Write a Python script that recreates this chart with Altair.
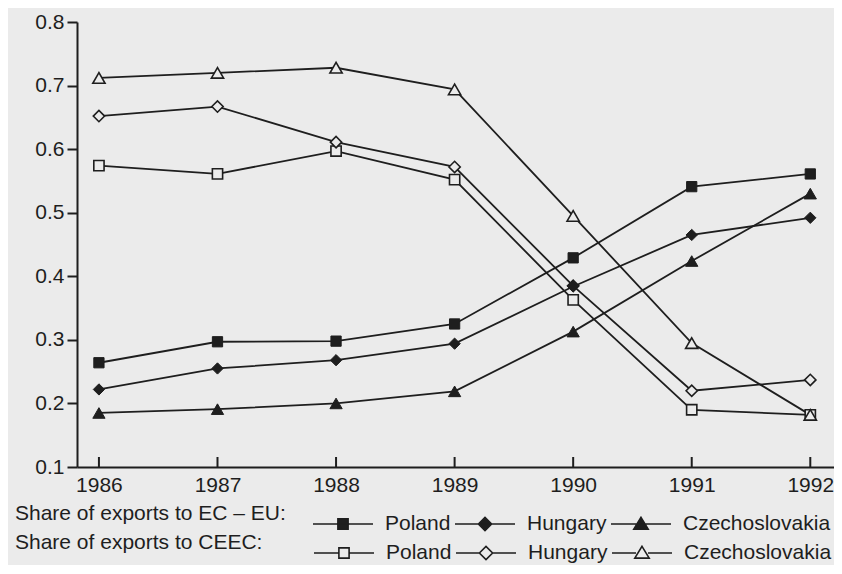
import altair as alt
import pandas as pd

years = [1986, 1987, 1988, 1989, 1990, 1991, 1992]
countries = ["Poland", "Hungary", "Czechoslovakia"]

# Share of exports to EC - EU
poland_ec = [0.264, 0.297, 0.298, 0.325, 0.429, 0.541, 0.561]
hungary_ec = [0.222, 0.255, 0.268, 0.294, 0.384, 0.465, 0.492]
czech_ec = [0.185, 0.191, 0.200, 0.219, 0.313, 0.424, 0.530]
# Share of exports to CEEC
poland_ceec = [0.574, 0.561, 0.597, 0.552, 0.363, 0.190, 0.182]
hungary_ceec = [0.652, 0.667, 0.611, 0.572, 0.385, 0.220, 0.237]
czech_ceec = [0.712, 0.720, 0.728, 0.694, 0.495, 0.295, 0.182]

y_ticks = [0.1, 0.2, 0.3, 0.4, 0.5, 0.6, 0.7, 0.8]

series = {
    ("EC", "Poland"): poland_ec,
    ("EC", "Hungary"): hungary_ec,
    ("EC", "Czechoslovakia"): czech_ec,
    ("CEEC", "Poland"): poland_ceec,
    ("CEEC", "Hungary"): hungary_ceec,
    ("CEEC", "Czechoslovakia"): czech_ceec,
}
rows = []
for (grp, c), vals in series.items():
    for yr, v in zip(years, vals):
        rows.append({"year": yr, "value": v, "country": c, "group": grp, "series": grp + " " + c})
df = pd.DataFrame(rows)
ticks_df = pd.DataFrame({"year": years})

INK = "#1e1e1e"
BG = "#ebebeb"
FONT = "Liberation Sans"
W, H = 757, 445

x_enc = alt.X(
    "year:Q",
    title=None,
    scale=alt.Scale(domain=[1985.815, 1992.2], nice=False, zero=False),
    axis=alt.Axis(values=years, format="d", ticks=False, grid=False, labelFont=FONT,
                  labelFontSize=21, labelColor=INK, labelPadding=7, domainColor=INK,
                  domainWidth=2),
)
y_enc = alt.Y(
    "value:Q",
    title=None,
    scale=alt.Scale(domain=[0.1, 0.8], nice=False, zero=False),
    axis=alt.Axis(values=y_ticks, format=".1f", tickSize=10, tickWidth=2, tickColor=INK,
                  grid=False, labelFont=FONT, labelFontSize=21, labelColor=INK,
                  labelPadding=3, domainColor=INK, domainWidth=2),
)

shape_scale = alt.Scale(domain=countries, range=["square", "diamond", "triangle-up"])
size_scale = alt.Scale(domain=countries, range=[105, 150, 170])

lines = alt.Chart(df).mark_line(color=INK, strokeWidth=1.8).encode(
    x=x_enc, y=y_enc, detail="series:N", order="year:Q"
)

xticks = alt.Chart(ticks_df).mark_rule(color=INK, strokeWidth=2).encode(
    x="year:Q", y=alt.value(H), y2=alt.value(H - 10)
)

ceec_pts = alt.Chart(df).transform_filter(alt.datum.group == "CEEC").mark_point(
    filled=True, fill=BG, stroke=INK, strokeWidth=1.6, opacity=1
).encode(
    x="year:Q", y="value:Q",
    shape=alt.Shape("country:N", scale=shape_scale, legend=None),
    size=alt.Size("country:N", scale=size_scale, legend=None),
)

ec_pts = alt.Chart(df).transform_filter(alt.datum.group == "EC").mark_point(
    filled=True, fill=INK, stroke=INK, strokeWidth=1, opacity=1
).encode(
    x="year:Q", y="value:Q",
    shape=alt.Shape("country:N", scale=shape_scale, legend=None),
    size=alt.Size("country:N", scale=size_scale, legend=None),
)

# legend symbols: line with marker in the middle
sym_filled = [
    "M-1,0H1M-0.17,-0.17H0.17V0.17H-0.17Z",
    "M-1,0H1M-0.22,0L0,-0.22L0.22,0L0,0.22Z",
    "M-1,0H1M0,-0.22L0.24,0.17H-0.24Z",
]
sym_open = [
    "M-1,0H-0.17M0.17,0H1M-0.17,-0.17H0.17V0.17H-0.17Z",
    "M-1,0H-0.22M0.22,0H1M-0.22,0L0,-0.22L0.22,0L0,0.22Z",
    "M-1,0H-0.2M0.2,0H1M0,-0.22L0.24,0.17H-0.24Z",
]


def legend(title, pad, ly):
    return alt.Legend(
        title=title, orient="none", legendX=-62, legendY=ly, direction="horizontal",
        symbolSize=3600, symbolStrokeWidth=1.6, labelFont=FONT, labelFontSize=21,
        labelColor=INK, labelOffset=11, columnPadding=0, titleFont=FONT,
        titleFontSize=21, titleFontWeight="normal", titleColor=INK, titleOrient="left",
        titlePadding=pad, titleAnchor="middle", titleBaseline="middle", titleLimit=400,
        labelLimit=300,
    )


leg_ec = alt.Chart(df).transform_filter("false").mark_point(
    filled=True, fill=INK, stroke=INK, strokeWidth=1.6, opacity=1
).encode(
    x="year:Q", y="value:Q",
    shape=alt.Shape("country:N", scale=alt.Scale(domain=countries, range=sym_filled),
                    legend=legend("Share of exports to EC – EU:", 26, 471)),
)
leg_ceec = alt.Chart(df).transform_filter("false").mark_point(
    filled=True, fill=BG, stroke=INK, strokeWidth=1.6, opacity=1
).encode(
    x="year:Q", y="value:Q",
    shape=alt.Shape("country:N", scale=alt.Scale(domain=countries, range=sym_open),
                    legend=legend("Share of exports to CEEC:", 50, 500)),
)

chart = alt.layer(lines, xticks, ceec_pts, ec_pts, leg_ec, leg_ceec).resolve_scale(
    shape="independent", size="independent"
).properties(
    width=W, height=H,
    autosize=alt.AutoSizeParams(type="none"),
    padding={"left": 69, "top": 14, "right": 0, "bottom": 98},
    background=BG,
).configure_view(stroke=None)

chart.save("out.html", embed_options={"renderer": "svg", "actions": False})
